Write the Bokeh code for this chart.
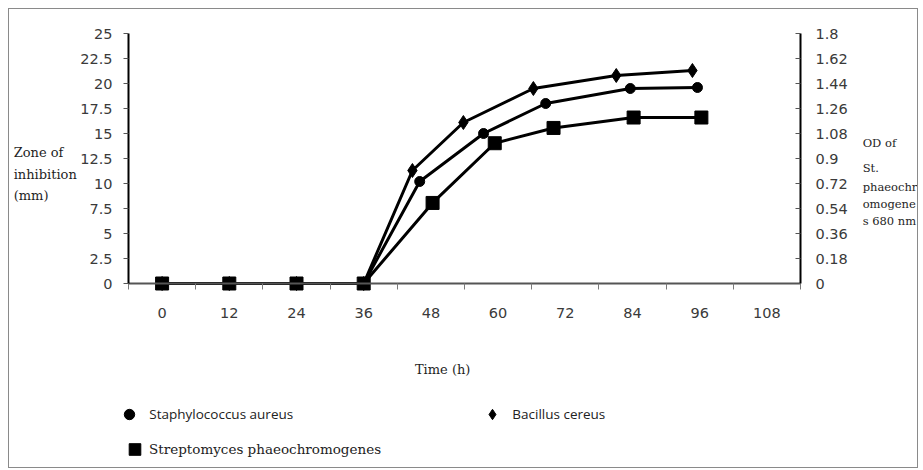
from bokeh.plotting import figure
from bokeh.models import Range1d, LinearAxis, FixedTicker, Legend, LegendItem, Label
from bokeh.embed import file_html
from bokeh.resources import INLINE

# ---- data ----
hour_ticks = [0, 12, 24, 36, 48, 60, 72, 84, 96, 108]
zone_ticks = [0, 2.5, 5, 7.5, 10, 12.5, 15, 17.5, 20, 22.5, 25]
zone_tick_labels = ["0", "2.5", "5", "7.5", "10", "12.5", "15", "17.5", "20", "22.5", "25"]
od_ticks = [0, 0.18, 0.36, 0.54, 0.72, 0.9, 1.08, 1.26, 1.44, 1.62, 1.8]
od_tick_labels = ["0", "0.18", "0.36", "0.54", "0.72", "0.9", "1.08", "1.26", "1.44", "1.62", "1.8"]

sa_hours = [0, 12, 24, 36, 46.0, 57.4, 68.5, 83.6, 95.6]
sa_zone = [0, 0, 0, 0, 10.2, 15.0, 18.0, 19.5, 19.6]

bc_hours = [0, 12, 24, 36, 44.7, 53.8, 66.3, 81.1, 94.7]
bc_zone = [0, 0, 0, 0, 11.3, 16.1, 19.5, 20.8, 21.3]

sp_hours = [0, 12, 24, 36, 48.3, 59.4, 69.9, 84.2, 96.3]
sp_od = [0, 0, 0, 0, 0.58, 1.01, 1.12, 1.195, 1.195]

names = ["Staphylococcus aureus", "Bacillus cereus", "Streptomyces phaeochromogenes"]
x_title = "Time (h)"
left_title = ["Zone of", "inhibition", "(mm)"]
right_title = ["OD of", "St.", "phaeochr", "omogene", "s 680 nm"]

# ---- layout constants ----
hour_lo, hour_hi = -6, 114          # extent of the hour axis (category boundaries)
zone_hi, od_hi = 25, 1.8
W, H = 910, 460
x_lo, x_hi = -27.25, 135.25          # whole canvas in data units
y_lo, y_hi = -18.6, 27.4

p = figure(width=W, height=H,
           x_range=Range1d(x_lo, x_hi), y_range=Range1d(y_lo, y_hi),
           output_backend="svg", toolbar_location=None,
           min_border_left=0, min_border_right=0, min_border_top=0, min_border_bottom=0)
p.extra_y_ranges = {"od": Range1d(y_lo * od_hi / zone_hi, y_hi * od_hi / zone_hi)}
p.styles = {"border": "1px solid #8a8a8a", "margin-left": "8px", "margin-top": "8px"}
p.outline_line_color = None
p.xgrid.visible = False
p.ygrid.visible = False
p.background_fill_color = "white"
p.border_fill_color = "white"

tick_font = "DejaVu Sans"
tick_size = "14.5px"
tick_color = "#3a3a3a"
serif = "DejaVu Serif"
title_color = "#1e1e1e"

# x axis at zero
xa = p.xaxis[0]
xa.ticker = FixedTicker(ticks=hour_ticks,
                        minor_ticks=[h - 6 for h in hour_ticks] + [hour_ticks[-1] + 6])
xa.fixed_location = 0
xa.bounds = (hour_lo, hour_hi)
xa.major_tick_out = 0
xa.major_tick_in = 0
xa.minor_tick_out = 6
xa.minor_tick_in = 0
xa.minor_tick_line_color = "#7a7a7a"
xa.axis_line_color = "#555555"
xa.axis_line_width = 2
xa.major_label_standoff = 18
xa.major_label_text_font = tick_font
xa.major_label_text_font_size = tick_size
xa.major_label_text_color = tick_color

# left y axis
ya = p.yaxis[0]
ya.ticker = FixedTicker(ticks=zone_ticks, minor_ticks=[])
ya.major_label_overrides = dict(zip(zone_ticks, zone_tick_labels))
ya.fixed_location = hour_lo
ya.bounds = (0, zone_hi)
ya.axis_line_color = "black"
ya.axis_line_width = 2
ya.major_tick_out = 5
ya.major_tick_in = 0
ya.major_tick_line_color = "#555555"
ya.minor_tick_out = 0
ya.minor_tick_in = 0
ya.major_label_standoff = 11
ya.major_label_text_font = tick_font
ya.major_label_text_font_size = tick_size
ya.major_label_text_color = tick_color

# right y axis (OD)
ra = LinearAxis(y_range_name="od", ticker=FixedTicker(ticks=od_ticks, minor_ticks=[]))
ra.major_label_overrides = dict(zip(od_ticks, od_tick_labels))
ra.fixed_location = hour_hi
ra.bounds = (0, od_hi)
ra.axis_line_color = "black"
ra.axis_line_width = 2
ra.major_tick_out = 0
ra.major_tick_in = 5
ra.major_tick_line_color = "#555555"
ra.minor_tick_out = 0
ra.minor_tick_in = 0
ra.major_label_standoff = 15
ra.major_label_text_font = tick_font
ra.major_label_text_font_size = tick_size
ra.major_label_text_color = tick_color
p.add_layout(ra, "right")

# ---- series ----
p.line(sa_hours, sa_zone, line_color="black", line_width=3)
sa_r = p.scatter(sa_hours, sa_zone, marker="circle", size=10, color="black")

p.line(bc_hours, bc_zone, line_color="black", line_width=3)
bc_r = p.scatter(bc_hours, bc_zone, marker="diamond", size=14, color="black")

p.line(sp_hours, sp_od, line_color="black", line_width=3, y_range_name="od")
sp_r = p.scatter(sp_hours, sp_od, marker="square", size=13, color="black", y_range_name="od")

# ---- axis titles ----
for txt, yy in zip(left_title, [13.1, 10.9, 8.8]):
    p.add_layout(Label(x=-26.5, y=yy, text=txt, text_font=serif, text_font_size="13px",
                       text_color=title_color, text_baseline="middle", text_align="left"))
for txt, yy in zip(right_title, [14.1, 11.6, 9.7, 8.0, 6.3]):
    p.add_layout(Label(x=125.1, y=yy, text=txt, text_font=serif, text_font_size="11.5px",
                       text_color=title_color, text_baseline="middle", text_align="left"))
p.add_layout(Label(x=50.1, y=-8.6, text=x_title, text_font=serif, text_font_size="13px",
                   text_color=title_color, text_baseline="middle", text_align="center"))

# ---- legends ----
leg1 = Legend(items=[LegendItem(label=names[0], renderers=[sa_r]),
                     LegendItem(label=names[1], renderers=[bc_r])],
              orientation="horizontal", location=(107.3, 42.5),
              glyph_width=26, glyph_height=26, label_standoff=7, label_width=330,
              spacing=0, padding=0, margin=0, border_line_color=None,
              background_fill_alpha=0, label_text_font="Open Sans",
              label_text_font_size="13.5px", label_text_color="#222222")
p.add_layout(leg1, "center")

leg2 = Legend(items=[LegendItem(label=names[2], renderers=[sp_r])],
              orientation="horizontal", location=(111.1, 3.5),
              glyph_width=29, glyph_height=34, label_standoff=0,
              spacing=0, padding=0, margin=0, border_line_color=None,
              background_fill_alpha=0, label_text_font=serif,
              label_text_font_size="13.5px", label_text_color="#222222")
p.add_layout(leg2, "center")

open("out.html", "w").write(file_html(p, INLINE))
